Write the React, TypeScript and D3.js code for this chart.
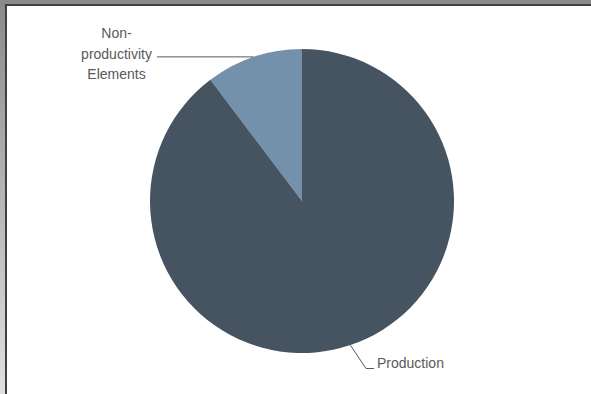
import React from "react";
import * as d3 from "d3";

const categories = ["Non-productivity Elements", "Production"];
const values = [10.3, 89.7];
const colors = ["#7391AB", "#465360"];

export default function App() {
  const W = 591, H = 394;
  const cx = 302, cy = 201, r = 152;
  const pie = d3.pie<number>().sort(null).value((d) => d).startAngle(0).endAngle(-2 * Math.PI);
  const arcs = pie(values);
  const arcGen = d3.arc<d3.PieArcDatum<number>>().innerRadius(0).outerRadius(r);
  const textColor = "#595959";
  const mid = (a: d3.PieArcDatum<number>) => (a.startAngle + a.endAngle) / 2;
  const pt = (ang: number) => [cx + r * Math.sin(ang), cy - r * Math.cos(ang)];
  const [p0x, p0y] = pt(mid(arcs[0]));
  const [p1x, p1y] = pt(mid(arcs[1]));
  return (
    <svg width={W} height={H} style={{ position: "absolute", left: 0, top: 0 }}>
      <defs>
        <linearGradient id="lg" x1="0" y1="0" x2="0" y2="1">
          <stop offset="0" stopColor="#8a8a8a" />
          <stop offset="1" stopColor="#e0e0e0" />
        </linearGradient>
      </defs>
      <rect x={0} y={0} width={W} height={H} fill="url(#lg)" />
      <rect x={0} y={0} width={W} height={5} fill="#8a8a8a" />
      <rect x={5} y={4} width={W - 5} height={H - 4} fill="#404040" />
      <rect x={7} y={6} width={W - 7} height={H - 6} fill="#ffffff" />
      <g transform={`translate(${cx},${cy})`}>
        {arcs.map((a, i) => (
          <path key={categories[i]} d={arcGen(a) || ""} fill={colors[i]} />
        ))}
      </g>
      <line x1={157} y1={p0y} x2={p0x} y2={p0y} stroke={textColor} strokeWidth={1} />
      <text fontFamily="Liberation Sans, Arial, sans-serif" fontSize={14} fill={textColor} textAnchor="middle">
        <tspan x={116.5} y={38}>Non-</tspan>
        <tspan x={116.5} y={59}>productivity</tspan>
        <tspan x={116.5} y={79}>Elements</tspan>
      </text>
      <polyline
        points={`${p1x},${p1y} 366,368.5 374,368.5`}
        fill="none"
        stroke={textColor}
        strokeWidth={1}
      />
      <text x={377} y={368} fontFamily="Liberation Sans, Arial, sans-serif" fontSize={14} fill={textColor}>
        {categories[1]}
      </text>
    </svg>
  );
}
